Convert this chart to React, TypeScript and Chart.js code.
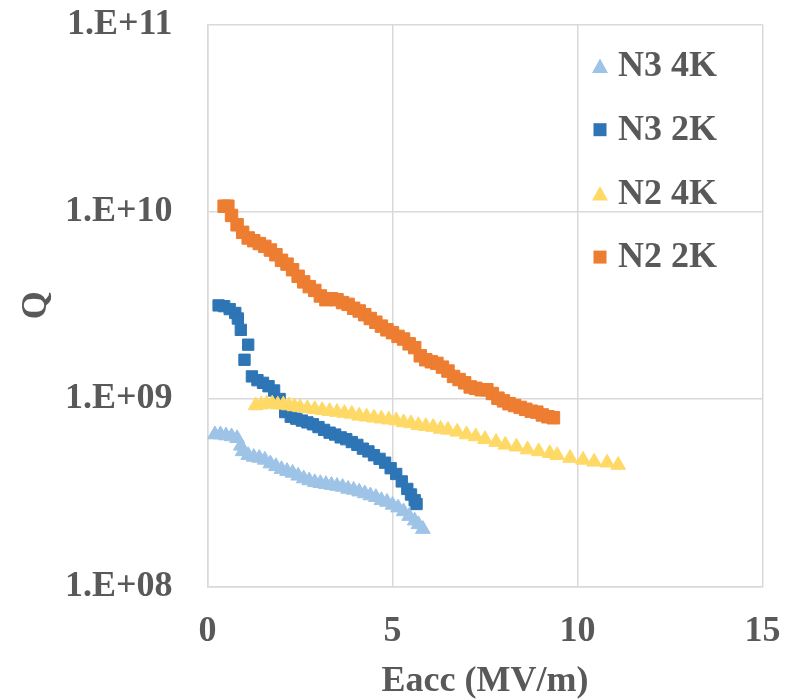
import React, { useEffect, useRef } from 'react';
import { Chart, registerables } from 'chart.js';

Chart.register(...registerables);

// ---- Data ----
const seriesLabels = ['N3 4K', 'N3 2K', 'N2 4K', 'N2 2K'];
const seriesColors = ['#9DC3E6', '#2E75B6', '#FFD966', '#ED7D31'];
const seriesMarkers = ['triangle', 'rect', 'triangle', 'rect'];

const n3_4K_E = [0.2, 0.35, 0.5, 0.65, 0.8, 0.9, 0.95, 1.1, 1.25, 1.4, 1.55, 1.7, 1.85, 2.0, 2.15, 2.3, 2.45, 2.6, 2.75, 2.9, 3.05, 3.2, 3.35, 3.5, 3.65, 3.8, 3.95, 4.1, 4.25, 4.4, 4.55, 4.7, 4.85, 5.0, 5.15, 5.3, 5.45, 5.6, 5.7, 5.82];
const n3_4K_Q = [6.46e8, 6.46e8, 6.38e8, 6.31e8, 6.17e8, 5.62e8, 5.25e8, 5.01e8, 4.9e8, 4.84e8, 4.73e8, 4.52e8, 4.37e8, 4.22e8, 4.12e8, 4.03e8, 3.89e8, 3.76e8, 3.67e8, 3.59e8, 3.55e8, 3.51e8, 3.47e8, 3.43e8, 3.39e8, 3.31e8, 3.27e8, 3.2e8, 3.13e8, 3.05e8, 2.99e8, 2.88e8, 2.82e8, 2.72e8, 2.63e8, 2.51e8, 2.37e8, 2.24e8, 2.14e8, 2.02e8];

const n3_2K_E = [0.3, 0.45, 0.6, 0.75, 0.82, 0.9, 1.1, 1.0, 1.2, 1.35, 1.5, 1.65, 1.8, 1.95, 2.1, 2.25, 2.4, 2.55, 2.7, 2.85, 3.0, 3.15, 3.3, 3.45, 3.6, 3.75, 3.9, 4.05, 4.2, 4.35, 4.5, 4.65, 4.8, 4.95, 5.1, 5.25, 5.4, 5.5, 5.6, 5.65];
const n3_2K_Q = [3.16e9, 3.13e9, 3.02e9, 2.88e9, 2.69e9, 2.34e9, 1.95e9, 1.62e9, 1.32e9, 1.26e9, 1.22e9, 1.17e9, 1.11e9, 1.0e9, 8.51e8, 8.04e8, 7.85e8, 7.67e8, 7.5e8, 7.33e8, 7.08e8, 6.84e8, 6.61e8, 6.46e8, 6.24e8, 6.1e8, 5.89e8, 5.69e8, 5.43e8, 5.25e8, 5.01e8, 4.79e8, 4.57e8, 4.27e8, 3.98e8, 3.63e8, 3.31e8, 3.09e8, 2.88e8, 2.75e8];

const n2_4K_E = [1.3, 1.45, 1.6, 1.75, 1.9, 2.05, 2.2, 2.35, 2.5, 2.7, 2.9, 3.1, 3.3, 3.5, 3.7, 3.9, 4.1, 4.3, 4.5, 4.7, 4.9, 5.1, 5.3, 5.5, 5.7, 5.9, 6.1, 6.3, 6.5, 6.75, 7.0, 7.25, 7.5, 7.8, 8.05, 8.35, 8.65, 8.95, 9.25, 9.45, 9.8, 10.15, 10.45, 10.8, 11.1];
const n2_4K_Q = [9.23e8, 9.33e8, 9.44e8, 9.44e8, 9.33e8, 9.33e8, 9.23e8, 9.12e8, 9.02e8, 8.91e8, 8.81e8, 8.71e8, 8.61e8, 8.51e8, 8.41e8, 8.32e8, 8.13e8, 8.04e8, 7.94e8, 7.85e8, 7.76e8, 7.67e8, 7.5e8, 7.41e8, 7.24e8, 7.16e8, 7.08e8, 6.92e8, 6.84e8, 6.68e8, 6.46e8, 6.31e8, 6.1e8, 5.89e8, 5.69e8, 5.56e8, 5.37e8, 5.25e8, 5.13e8, 5.01e8, 4.84e8, 4.73e8, 4.62e8, 4.57e8, 4.44e8];

const n2_2K_E = [0.45, 0.55, 0.65, 0.8, 0.95, 1.1, 1.25, 1.4, 1.55, 1.7, 1.85, 2.0, 2.15, 2.3, 2.45, 2.6, 2.75, 2.9, 3.05, 3.2, 3.35, 3.5, 3.65, 3.8, 3.95, 4.1, 4.25, 4.4, 4.55, 4.7, 4.85, 5.0, 5.15, 5.3, 5.45, 5.6, 5.75, 5.9, 6.05, 6.2, 6.35, 6.5, 6.65, 6.8, 6.95, 7.1, 7.25, 7.4, 7.55, 7.7, 7.85, 8.0, 8.15, 8.3, 8.45, 8.6, 8.75, 8.9, 9.05, 9.2, 9.35];
const n2_2K_Q = [1.07e10, 1.07e10, 9.55e9, 8.51e9, 7.76e9, 7.24e9, 7.0e9, 6.76e9, 6.53e9, 6.24e9, 5.89e9, 5.5e9, 5.25e9, 4.9e9, 4.52e9, 4.22e9, 3.98e9, 3.8e9, 3.55e9, 3.39e9, 3.43e9, 3.39e9, 3.27e9, 3.2e9, 3.05e9, 2.95e9, 2.82e9, 2.69e9, 2.57e9, 2.45e9, 2.34e9, 2.26e9, 2.16e9, 2.09e9, 1.97e9, 1.88e9, 1.7e9, 1.62e9, 1.58e9, 1.55e9, 1.48e9, 1.41e9, 1.32e9, 1.27e9, 1.22e9, 1.16e9, 1.14e9, 1.12e9, 1.12e9, 1.07e9, 1.01e9, 9.77e8, 9.44e8, 9.23e8, 9.02e8, 8.81e8, 8.61e8, 8.51e8, 8.22e8, 8.04e8, 7.94e8];

const xTicks = [0, 5, 10, 15];
const yTicks = [1e8, 1e9, 1e10, 1e11];
const xTitle = 'Eacc (MV/m)';
const yTitle = 'Q';

const seriesE = [n3_4K_E, n3_2K_E, n2_4K_E, n2_2K_E];
const seriesQ = [n3_4K_Q, n3_2K_Q, n2_4K_Q, n2_2K_Q];
const seriesRadius = [8.5, 8, 8.5, 8.8];

const TEXT = '#595959';
const GRID = '#d9d9d9';
const FONT = '"Liberation Serif", "Times New Roman", serif';

const fmtExp = (v: number) => {
  const e = Math.round(Math.log10(v));
  return '1.E+' + (e < 10 ? '0' + e : String(e));
};

const legendPlugin = {
  id: 'insideLegend',
  afterDraw(chart: any) {
    const { ctx, chartArea } = chart;
    ctx.save();
    chart.data.datasets.forEach((ds: any, i: number) => {
      const cx = chartArea.left + 392.5;
      const cy = chartArea.top + 41.6 + i * 63.7;
      ctx.fillStyle = ds.backgroundColor;
      ctx.beginPath();
      if (ds.pointStyle === 'triangle') {
        ctx.moveTo(cx, cy - 7.5);
        ctx.lineTo(cx + 8, cy + 7);
        ctx.lineTo(cx - 8, cy + 7);
        ctx.closePath();
      } else {
        ctx.rect(cx - 6.5, cy - 6.5, 13, 13);
      }
      ctx.fill();
      ctx.fillStyle = TEXT;
      ctx.font = 'bold 36px ' + FONT;
      ctx.textBaseline = 'middle';
      ctx.textAlign = 'left';
      ctx.fillText(ds.label, chartArea.left + 410.5, cy + 1);
    });
    ctx.restore();
  },
};

export default function App() {
  const ref = useRef<HTMLCanvasElement>(null);

  useEffect(() => {
    if (!ref.current) return;
    const datasets = seriesLabels.map((label, i) => ({
      label,
      data: seriesE[i].map((x, j) => ({ x, y: seriesQ[i][j] })),
      backgroundColor: seriesColors[i],
      borderColor: seriesColors[i],
      pointStyle: seriesMarkers[i],
      pointRadius: seriesRadius[i],
      pointBorderWidth: 1,
      showLine: false,
      order: seriesLabels.length - i,
    }));

    const chart = new Chart(ref.current, {
      type: 'scatter',
      data: { datasets },
      options: {
        animation: false,
        responsive: false,
        layout: { padding: { top: 24.4, right: 35.5, bottom: 0, left: 0 } },
        plugins: { legend: { display: false }, tooltip: { enabled: false } },
        scales: {
          x: {
            type: 'linear',
            min: 0,
            max: 15,
            afterBuildTicks: (s: any) => { s.ticks = xTicks.map((v) => ({ value: v })); },
            afterFit: (s: any) => { s.height = 700 - 586.3; s.paddingLeft = 0; s.paddingRight = 0; },
            grid: { color: GRID, lineWidth: 1.5, drawTicks: true, tickLength: 24, tickColor: 'rgba(0,0,0,0)' },
            border: { color: GRID, width: 1.5 },
            ticks: {
              padding: 0,
              color: TEXT,
              font: { family: FONT, size: 36, weight: 'bold' },
              maxRotation: 0,
            },
            title: {
              display: true,
              text: xTitle,
              color: TEXT,
              font: { family: FONT, size: 36, weight: 'bold', lineHeight: 1 },
              padding: { top: 0, bottom: 0 },
            },
          },
          y: {
            type: 'logarithmic',
            min: 1e8,
            max: 1e11,
            afterBuildTicks: (s: any) => { s.ticks = yTicks.map((v) => ({ value: v })); },
            afterFit: (s: any) => { s.width = 207.5; s.paddingTop = 0; s.paddingBottom = 0; },
            grid: { color: GRID, lineWidth: 1.5, drawTicks: true, tickLength: 35, tickColor: 'rgba(0,0,0,0)' },
            border: { color: GRID, width: 1.5 },
            ticks: {
              padding: 0,
              color: TEXT,
              font: { family: FONT, size: 36, weight: 'bold' },
              callback: (v: any) => fmtExp(Number(v)),
            },
            title: {
              display: true,
              text: yTitle,
              color: TEXT,
              font: { family: FONT, size: 36, weight: 'bold', lineHeight: 1 },
              padding: { top: 19, bottom: 0 },
            },
          },
        },
      },
      plugins: [legendPlugin],
    } as any);
    return () => chart.destroy();
  }, []);

  return (
    <div style={{ position: 'fixed', left: 0, top: 0, width: 798, height: 700, background: '#fff' }}>
      <canvas ref={ref} width={798} height={700} style={{ display: 'block' }} />
    </div>
  );
}
